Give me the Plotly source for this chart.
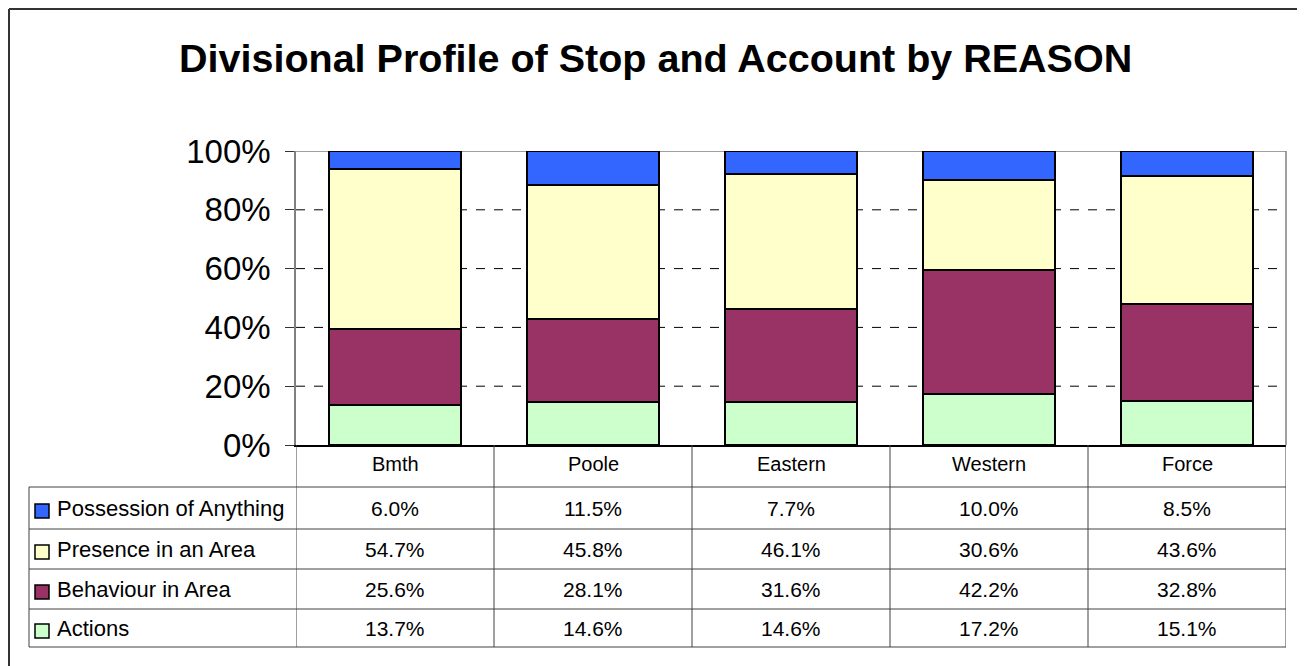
import plotly.graph_objects as go

categories = ["Bmth", "Poole", "Eastern", "Western", "Force"]
series_names = ["Actions", "Behaviour in Area", "Presence in an Area", "Possession of Anything"]
actions = [13.7, 14.6, 14.6, 17.2, 15.1]
behaviour = [25.6, 28.1, 31.6, 42.2, 32.8]
presence = [54.7, 45.8, 46.1, 30.6, 43.6]
possession = [6.0, 11.5, 7.7, 10.0, 8.5]
y_ticks = [0, 20, 40, 60, 80, 100]
y_tick_labels = ["0%", "20%", "40%", "60%", "80%", "100%"]
title_text = "Divisional Profile of Stop and Account by REASON"

colors = {
    "Actions": "#CCFFCC",
    "Behaviour in Area": "#993366",
    "Presence in an Area": "#FFFFCC",
    "Possession of Anything": "#3366FF",
}
series_values = {
    "Actions": actions,
    "Behaviour in Area": behaviour,
    "Presence in an Area": presence,
    "Possession of Anything": possession,
}

# page has an 8px body margin; size the figure so it fills the window exactly
OFF = 8
W, H = 1305 - OFF, 666 - OFF
FONT = "Arial, Liberation Sans, sans-serif"


def px(x):
    return (x - OFF) / W


def py(y):
    return 1 - (y - OFF) / H


x_idx = list(range(len(categories)))

fig = go.Figure()
for name in series_names:
    fig.add_trace(go.Bar(
        x=x_idx, y=series_values[name], name=name, width=0.667,
        marker=dict(color=colors[name], line=dict(color="black", width=2)),
        showlegend=False,
    ))

shapes = []
for t in y_ticks[1:-1]:
    shapes.append(dict(type="line", xref="paper", yref="y", x0=px(296), x1=px(1286), y0=t, y1=t,
                       line=dict(color="black", width=1, dash="dash"), layer="below"))
shapes.append(dict(type="line", xref="paper", yref="y", x0=px(296), x1=px(1286), y0=100, y1=100,
                   line=dict(color="#808080", width=1.5), layer="below"))
shapes.append(dict(type="line", xref="paper", yref="paper", x0=px(1286), x1=px(1286), y0=py(445), y1=py(151),
                   line=dict(color="#808080", width=1.5), layer="below"))

row_lines = [487, 529, 569, 609, 647]
row_centers = [508, 549, 589, 628]
header_center = 464
table_left = 29
line_col = "#404040"
n = len(categories)
for i in range(n + 1):
    shapes.append(dict(type="line", xref="x", yref="paper", x0=i - 0.5, x1=i - 0.5,
                       y0=py(row_lines[-1]), y1=py(445), line=dict(color=line_col, width=1)))
for r in row_lines:
    shapes.append(dict(type="line", xref="paper", yref="paper", x0=px(table_left), x1=px(1286),
                       y0=py(r), y1=py(r), line=dict(color=line_col, width=1)))
shapes.append(dict(type="line", xref="paper", yref="paper", x0=px(table_left), x1=px(table_left),
                   y0=py(row_lines[-1]), y1=py(row_lines[0]), line=dict(color=line_col, width=1)))
shapes.append(dict(type="line", xref="paper", yref="paper", x0=px(9), x1=px(9), y0=py(9), y1=0,
                   line=dict(color="#333333", width=2)))
shapes.append(dict(type="line", xref="paper", yref="paper", x0=px(9), x1=1, y0=py(9), y1=py(9),
                   line=dict(color="#333333", width=2)))

annotations = []
for i, c in enumerate(categories):
    annotations.append(dict(x=i, y=py(header_center), xref="x", yref="paper", text=c, showarrow=False,
                            font=dict(family=FONT, size=20, color="black"), xanchor="center", yanchor="middle"))
table_order = list(reversed(series_names))
for r, name in enumerate(table_order):
    yc = row_centers[r]
    shapes.append(dict(type="rect", xref="paper", yref="paper", x0=px(35), x1=px(49),
                       y0=py(yc + 10), y1=py(yc - 4), fillcolor=colors[name],
                       line=dict(color="black", width=1.5)))
    annotations.append(dict(x=px(55), y=py(yc), xref="paper", yref="paper", text=name, showarrow=False,
                            font=dict(family=FONT, size=22, color="black"), xanchor="left", yanchor="middle"))
    for i, v in enumerate(series_values[name]):
        annotations.append(dict(x=i, y=py(yc), xref="x", yref="paper", text=f"{v:.1f}%", showarrow=False,
                                font=dict(family=FONT, size=21, color="black"), xanchor="center", yanchor="middle"))

annotations.append(dict(x=px(655), y=py(58), xref="paper", yref="paper", text=f"<b>{title_text}</b>",
                        showarrow=False, font=dict(family=FONT, size=39.5, color="black"),
                        xanchor="center", yanchor="middle"))

fig.update_layout(
    width=W, height=H,
    margin=dict(l=0, r=0, t=0, b=0, autoexpand=False),
    paper_bgcolor="white", plot_bgcolor="white",
    barmode="stack", bargap=0,
    shapes=shapes, annotations=annotations,
    xaxis=dict(domain=[px(296), px(1286)], range=[-0.5, n - 0.5], showticklabels=False, ticks="",
               showgrid=False, zeroline=False, showline=True, linecolor="black", linewidth=1.5,
               fixedrange=True, automargin=False),
    yaxis=dict(domain=[py(445), py(151)], range=[0, 100], tickvals=y_ticks, ticktext=y_tick_labels,
               ticks="outside", ticklen=9, tickcolor="#333333", tickwidth=1,
               showgrid=False, zeroline=False, showline=True, linecolor="#808080", linewidth=1.5,
               tickfont=dict(family=FONT, size=33, color="black"), ticklabelstandoff=8,
               fixedrange=True, automargin=False),
    showlegend=False,
)

fig.write_html("out.html")
